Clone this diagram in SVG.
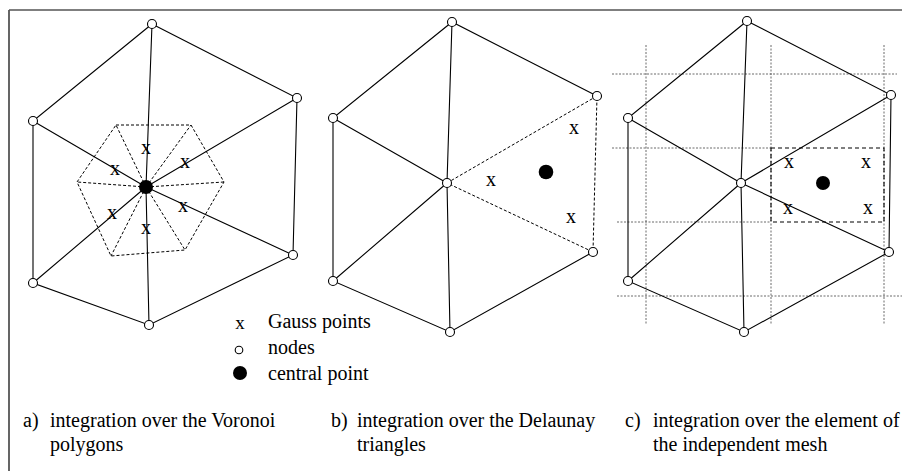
<svg xmlns="http://www.w3.org/2000/svg" width="902" height="471" viewBox="0 0 902 471">
  <style>
    .edge { stroke: #000; stroke-width: 1.1; fill: none; }
    .dash { stroke: #000; stroke-width: 1; fill: none; stroke-dasharray: 3 2; }
    .rect-dash { stroke: #000; stroke-width: 1.1; fill: none; stroke-dasharray: 4 3; }
    .grid { stroke: #444; stroke-width: 0.8; fill: none; stroke-dasharray: 2 1.5; }
    .node { fill: #fff; stroke: #000; stroke-width: 1.1; }
    .centre { fill: #000; }
    text { font-family: "Liberation Serif", "Times New Roman", serif; fill: #000; }
    .gp { font-size: 20px; text-anchor: middle; }
    .lbl { font-size: 20px; }
  </style>

  <!-- frame -->
  <g id="frame">
    <line x1="9" y1="10" x2="902" y2="10" stroke="#000" stroke-width="1.2"/>
    <line x1="9" y1="10" x2="9" y2="471" stroke="#555" stroke-width="1.8"/>
  </g>

  <!-- panel c: background mesh -->
  <g id="independent-mesh">
    <line class="grid" x1="612" y1="74" x2="897" y2="74"/>
    <line class="grid" x1="612" y1="148" x2="771" y2="148"/>
    <line class="grid" x1="617" y1="222" x2="771" y2="222"/>
    <line class="grid" x1="617" y1="296" x2="902" y2="296"/>
    <line class="grid" x1="646" y1="45" x2="646" y2="325"/>
    <line class="grid" x1="771" y1="45" x2="771" y2="325"/>
    <line class="grid" x1="884" y1="45" x2="884" y2="325"/>
    <rect class="rect-dash" x="771" y="148" width="113" height="74"/>
  </g>

  <!-- connectors -->
  <g id="connectors">
    <!-- panel a -->
    <polygon class="edge" points="152,24 297,98 293,255 149,325 33,283 33,121"/>
    <path class="edge" d="M146,187 L152,24 M146,187 L297,98 M146,187 L293,255 M146,187 L149,325 M146,187 L33,283 M146,187 L33,121"/>
    <polygon class="dash" points="116,125 191,125 224,182 185,250 111,256 77,182"/>
    <path class="dash" d="M146,187 L116,125 M146,187 L191,125 M146,187 L224,182 M146,187 L185,250 M146,187 L111,256 M146,187 L77,182"/>

    <!-- panel b -->
    <polyline class="edge" points="597,96 452,22 333,118 333,281 450,332 593,252"/>
    <path class="edge" d="M447,183 L452,22 M447,183 L333,118 M447,183 L333,281 M447,183 L450,332"/>
    <path class="dash" d="M447,183 L597,96 L593,252 Z"/>

    <!-- panel c -->
    <polygon class="edge" points="747,21 891,95 889,252 744,332 628,281 628,118"/>
    <path class="edge" d="M741,183 L747,21 M741,183 L891,95 M741,183 L889,252 M741,183 L744,332 M741,183 L628,281 M741,183 L628,118"/>
  </g>

  <!-- panel a nodes -->
  <g id="a-nodes">
    <circle class="node" cx="152" cy="24" r="4.5"/>
    <circle class="node" cx="297" cy="98" r="4.5"/>
    <circle class="node" cx="293" cy="255" r="4.5"/>
    <circle class="node" cx="149" cy="325" r="4.5"/>
    <circle class="node" cx="33" cy="283" r="4.5"/>
    <circle class="node" cx="33" cy="121" r="4.5"/>
  </g>
  <g id="a-centre"><circle class="centre" cx="146" cy="187" r="7"/></g>
  <g id="a-gauss">
    <text class="gp" x="146" y="154">x</text>
    <text class="gp" x="185" y="168">x</text>
    <text class="gp" x="115" y="175">x</text>
    <text class="gp" x="183" y="212">x</text>
    <text class="gp" x="112" y="219">x</text>
    <text class="gp" x="146" y="234">x</text>
  </g>

  <!-- panel b nodes -->
  <g id="b-nodes">
    <circle class="node" cx="452" cy="22" r="4.5"/>
    <circle class="node" cx="597" cy="96" r="4.5"/>
    <circle class="node" cx="593" cy="252" r="4.5"/>
    <circle class="node" cx="450" cy="332" r="4.5"/>
    <circle class="node" cx="333" cy="281" r="4.5"/>
    <circle class="node" cx="333" cy="118" r="4.5"/>
    <circle class="node" cx="447" cy="183" r="4.5"/>
  </g>
  <g id="b-centre"><circle class="centre" cx="546" cy="172" r="7.3"/></g>
  <g id="b-gauss">
    <text class="gp" x="491" y="186">x</text>
    <text class="gp" x="574" y="134">x</text>
    <text class="gp" x="571" y="223">x</text>
  </g>

  <!-- panel c nodes -->
  <g id="c-nodes">
    <circle class="node" cx="747" cy="21" r="4.5"/>
    <circle class="node" cx="891" cy="95" r="4.5"/>
    <circle class="node" cx="889" cy="252" r="4.5"/>
    <circle class="node" cx="744" cy="332" r="4.5"/>
    <circle class="node" cx="628" cy="281" r="4.5"/>
    <circle class="node" cx="628" cy="118" r="4.5"/>
    <circle class="node" cx="741" cy="183" r="4.5"/>
  </g>
  <g id="c-centre"><circle class="centre" cx="823" cy="183" r="7"/></g>
  <g id="c-gauss">
    <text class="gp" x="789" y="168">x</text>
    <text class="gp" x="866" y="168">x</text>
    <text class="gp" x="788" y="214">x</text>
    <text class="gp" x="868" y="214">x</text>
  </g>

  <!-- legend -->
  <g id="legend">
    <text x="240" y="329" font-size="19" text-anchor="middle">x</text>
    <text class="lbl" x="268" y="328">Gauss points</text>
    <circle class="node" cx="239" cy="350" r="3.8"/>
    <text class="lbl" x="268" y="354">nodes</text>
    <circle class="centre" cx="240" cy="373" r="7"/>
    <text class="lbl" x="268" y="380">central point</text>
  </g>

  <!-- captions -->
  <g id="captions">
    <text class="lbl" x="23" y="427">a)</text>
    <text class="lbl" x="50" y="427">integration over the Voronoi</text>
    <text class="lbl" x="50" y="451">polygons</text>
    <text class="lbl" x="331" y="427">b)</text>
    <text class="lbl" x="357" y="427">integration over the Delaunay</text>
    <text class="lbl" x="357" y="451">triangles</text>
    <text class="lbl" x="625" y="427">c)</text>
    <text class="lbl" x="653" y="427">integration over the element of</text>
    <text class="lbl" x="653" y="451">the independent mesh</text>
  </g>
</svg>
